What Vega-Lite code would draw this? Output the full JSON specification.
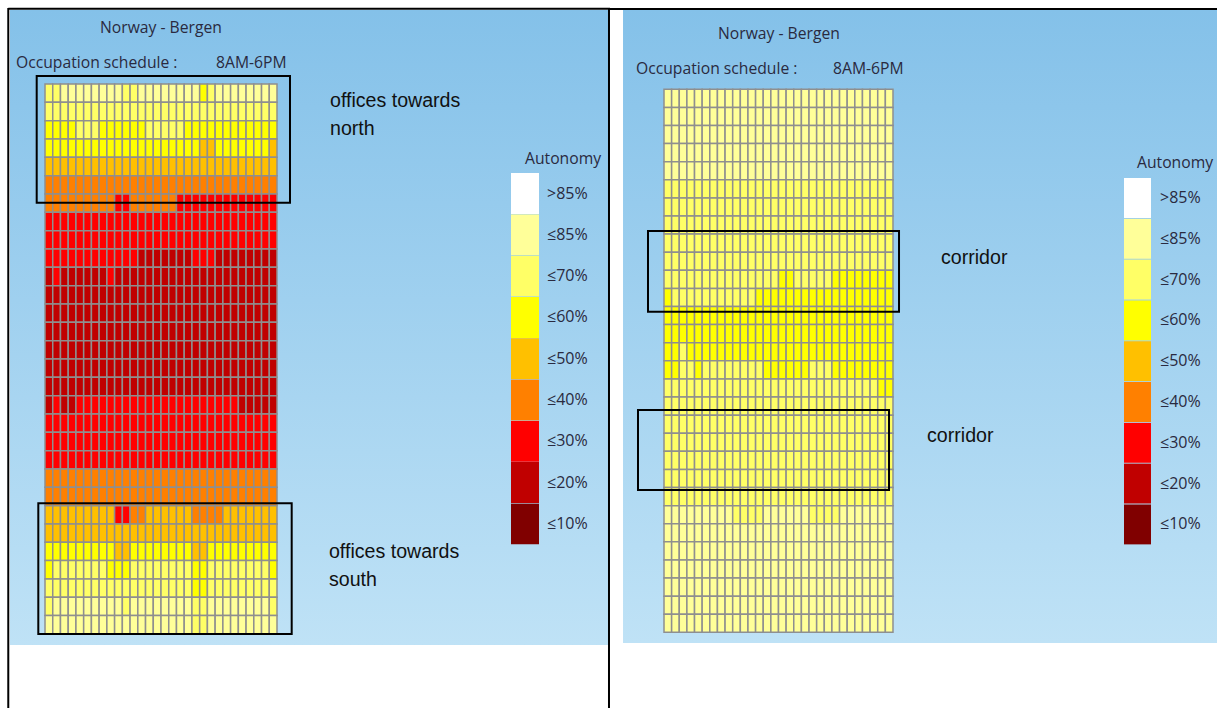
{"$schema":"https://vega.github.io/schema/vega-lite/v6.json","padding":0,"spacing":0,"bounds":"flush","background":"white","config":{"view":{"stroke":null},"concat":{"spacing":0}},
"datasets":{
"left":[
{"col":0,"row":0,"pct":70},{"col":1,"row":0,"pct":70},{"col":2,"row":0,"pct":85},{"col":3,"row":0,"pct":85},{"col":4,"row":0,"pct":85},{"col":5,"row":0,"pct":85},{"col":6,"row":0,"pct":85},{"col":7,"row":0,"pct":85},{"col":8,"row":0,"pct":85},{"col":9,"row":0,"pct":85},{"col":10,"row":0,"pct":70},{"col":11,"row":0,"pct":70},{"col":12,"row":0,"pct":85},{"col":13,"row":0,"pct":85},{"col":14,"row":0,"pct":85},{"col":15,"row":0,"pct":85},{"col":16,"row":0,"pct":85},{"col":17,"row":0,"pct":85},{"col":18,"row":0,"pct":85},{"col":19,"row":0,"pct":85},{"col":20,"row":0,"pct":60},{"col":21,"row":0,"pct":70},{"col":22,"row":0,"pct":85},{"col":23,"row":0,"pct":85},{"col":24,"row":0,"pct":85},{"col":25,"row":0,"pct":85},{"col":26,"row":0,"pct":85},{"col":27,"row":0,"pct":85},{"col":28,"row":0,"pct":85},{"col":29,"row":0,"pct":85},
{"col":0,"row":1,"pct":70},{"col":1,"row":1,"pct":70},{"col":2,"row":1,"pct":70},{"col":3,"row":1,"pct":70},{"col":4,"row":1,"pct":70},{"col":5,"row":1,"pct":70},{"col":6,"row":1,"pct":70},{"col":7,"row":1,"pct":70},{"col":8,"row":1,"pct":70},{"col":9,"row":1,"pct":70},{"col":10,"row":1,"pct":70},{"col":11,"row":1,"pct":70},{"col":12,"row":1,"pct":70},{"col":13,"row":1,"pct":70},{"col":14,"row":1,"pct":70},{"col":15,"row":1,"pct":70},{"col":16,"row":1,"pct":70},{"col":17,"row":1,"pct":70},{"col":18,"row":1,"pct":70},{"col":19,"row":1,"pct":70},{"col":20,"row":1,"pct":70},{"col":21,"row":1,"pct":70},{"col":22,"row":1,"pct":70},{"col":23,"row":1,"pct":70},{"col":24,"row":1,"pct":70},{"col":25,"row":1,"pct":70},{"col":26,"row":1,"pct":70},{"col":27,"row":1,"pct":70},{"col":28,"row":1,"pct":70},{"col":29,"row":1,"pct":70},
{"col":0,"row":2,"pct":60},{"col":1,"row":2,"pct":60},{"col":2,"row":2,"pct":60},{"col":3,"row":2,"pct":60},{"col":4,"row":2,"pct":70},{"col":5,"row":2,"pct":70},{"col":6,"row":2,"pct":70},{"col":7,"row":2,"pct":60},{"col":8,"row":2,"pct":60},{"col":9,"row":2,"pct":60},{"col":10,"row":2,"pct":60},{"col":11,"row":2,"pct":60},{"col":12,"row":2,"pct":60},{"col":13,"row":2,"pct":70},{"col":14,"row":2,"pct":70},{"col":15,"row":2,"pct":70},{"col":16,"row":2,"pct":70},{"col":17,"row":2,"pct":70},{"col":18,"row":2,"pct":60},{"col":19,"row":2,"pct":60},{"col":20,"row":2,"pct":60},{"col":21,"row":2,"pct":60},{"col":22,"row":2,"pct":60},{"col":23,"row":2,"pct":60},{"col":24,"row":2,"pct":60},{"col":25,"row":2,"pct":60},{"col":26,"row":2,"pct":60},{"col":27,"row":2,"pct":60},{"col":28,"row":2,"pct":60},{"col":29,"row":2,"pct":60},
{"col":0,"row":3,"pct":60},{"col":1,"row":3,"pct":60},{"col":2,"row":3,"pct":60},{"col":3,"row":3,"pct":60},{"col":4,"row":3,"pct":60},{"col":5,"row":3,"pct":60},{"col":6,"row":3,"pct":60},{"col":7,"row":3,"pct":60},{"col":8,"row":3,"pct":60},{"col":9,"row":3,"pct":60},{"col":10,"row":3,"pct":60},{"col":11,"row":3,"pct":60},{"col":12,"row":3,"pct":60},{"col":13,"row":3,"pct":60},{"col":14,"row":3,"pct":60},{"col":15,"row":3,"pct":60},{"col":16,"row":3,"pct":60},{"col":17,"row":3,"pct":60},{"col":18,"row":3,"pct":60},{"col":19,"row":3,"pct":60},{"col":20,"row":3,"pct":50},{"col":21,"row":3,"pct":50},{"col":22,"row":3,"pct":60},{"col":23,"row":3,"pct":60},{"col":24,"row":3,"pct":60},{"col":25,"row":3,"pct":60},{"col":26,"row":3,"pct":60},{"col":27,"row":3,"pct":60},{"col":28,"row":3,"pct":60},{"col":29,"row":3,"pct":50},
{"col":0,"row":4,"pct":50},{"col":1,"row":4,"pct":50},{"col":2,"row":4,"pct":50},{"col":3,"row":4,"pct":50},{"col":4,"row":4,"pct":50},{"col":5,"row":4,"pct":50},{"col":6,"row":4,"pct":50},{"col":7,"row":4,"pct":50},{"col":8,"row":4,"pct":50},{"col":9,"row":4,"pct":50},{"col":10,"row":4,"pct":50},{"col":11,"row":4,"pct":50},{"col":12,"row":4,"pct":50},{"col":13,"row":4,"pct":50},{"col":14,"row":4,"pct":50},{"col":15,"row":4,"pct":50},{"col":16,"row":4,"pct":50},{"col":17,"row":4,"pct":50},{"col":18,"row":4,"pct":50},{"col":19,"row":4,"pct":50},{"col":20,"row":4,"pct":50},{"col":21,"row":4,"pct":50},{"col":22,"row":4,"pct":50},{"col":23,"row":4,"pct":50},{"col":24,"row":4,"pct":50},{"col":25,"row":4,"pct":50},{"col":26,"row":4,"pct":50},{"col":27,"row":4,"pct":50},{"col":28,"row":4,"pct":50},{"col":29,"row":4,"pct":50},
{"col":0,"row":5,"pct":40},{"col":1,"row":5,"pct":40},{"col":2,"row":5,"pct":40},{"col":3,"row":5,"pct":40},{"col":4,"row":5,"pct":40},{"col":5,"row":5,"pct":40},{"col":6,"row":5,"pct":40},{"col":7,"row":5,"pct":40},{"col":8,"row":5,"pct":40},{"col":9,"row":5,"pct":40},{"col":10,"row":5,"pct":40},{"col":11,"row":5,"pct":40},{"col":12,"row":5,"pct":40},{"col":13,"row":5,"pct":40},{"col":14,"row":5,"pct":40},{"col":15,"row":5,"pct":40},{"col":16,"row":5,"pct":40},{"col":17,"row":5,"pct":40},{"col":18,"row":5,"pct":40},{"col":19,"row":5,"pct":40},{"col":20,"row":5,"pct":40},{"col":21,"row":5,"pct":40},{"col":22,"row":5,"pct":40},{"col":23,"row":5,"pct":40},{"col":24,"row":5,"pct":40},{"col":25,"row":5,"pct":40},{"col":26,"row":5,"pct":40},{"col":27,"row":5,"pct":40},{"col":28,"row":5,"pct":40},{"col":29,"row":5,"pct":40},
{"col":0,"row":6,"pct":40},{"col":1,"row":6,"pct":40},{"col":2,"row":6,"pct":40},{"col":3,"row":6,"pct":40},{"col":4,"row":6,"pct":40},{"col":5,"row":6,"pct":40},{"col":6,"row":6,"pct":40},{"col":7,"row":6,"pct":40},{"col":8,"row":6,"pct":40},{"col":9,"row":6,"pct":30},{"col":10,"row":6,"pct":30},{"col":11,"row":6,"pct":40},{"col":12,"row":6,"pct":40},{"col":13,"row":6,"pct":40},{"col":14,"row":6,"pct":40},{"col":15,"row":6,"pct":40},{"col":16,"row":6,"pct":40},{"col":17,"row":6,"pct":30},{"col":18,"row":6,"pct":30},{"col":19,"row":6,"pct":30},{"col":20,"row":6,"pct":30},{"col":21,"row":6,"pct":30},{"col":22,"row":6,"pct":30},{"col":23,"row":6,"pct":30},{"col":24,"row":6,"pct":30},{"col":25,"row":6,"pct":30},{"col":26,"row":6,"pct":30},{"col":27,"row":6,"pct":30},{"col":28,"row":6,"pct":30},{"col":29,"row":6,"pct":30},
{"col":0,"row":7,"pct":30},{"col":1,"row":7,"pct":30},{"col":2,"row":7,"pct":30},{"col":3,"row":7,"pct":30},{"col":4,"row":7,"pct":30},{"col":5,"row":7,"pct":30},{"col":6,"row":7,"pct":30},{"col":7,"row":7,"pct":30},{"col":8,"row":7,"pct":30},{"col":9,"row":7,"pct":30},{"col":10,"row":7,"pct":30},{"col":11,"row":7,"pct":30},{"col":12,"row":7,"pct":30},{"col":13,"row":7,"pct":30},{"col":14,"row":7,"pct":30},{"col":15,"row":7,"pct":30},{"col":16,"row":7,"pct":30},{"col":17,"row":7,"pct":30},{"col":18,"row":7,"pct":30},{"col":19,"row":7,"pct":30},{"col":20,"row":7,"pct":30},{"col":21,"row":7,"pct":30},{"col":22,"row":7,"pct":30},{"col":23,"row":7,"pct":30},{"col":24,"row":7,"pct":30},{"col":25,"row":7,"pct":30},{"col":26,"row":7,"pct":30},{"col":27,"row":7,"pct":30},{"col":28,"row":7,"pct":30},{"col":29,"row":7,"pct":30},
{"col":0,"row":8,"pct":30},{"col":1,"row":8,"pct":30},{"col":2,"row":8,"pct":30},{"col":3,"row":8,"pct":30},{"col":4,"row":8,"pct":30},{"col":5,"row":8,"pct":30},{"col":6,"row":8,"pct":30},{"col":7,"row":8,"pct":30},{"col":8,"row":8,"pct":30},{"col":9,"row":8,"pct":30},{"col":10,"row":8,"pct":30},{"col":11,"row":8,"pct":30},{"col":12,"row":8,"pct":30},{"col":13,"row":8,"pct":30},{"col":14,"row":8,"pct":30},{"col":15,"row":8,"pct":30},{"col":16,"row":8,"pct":30},{"col":17,"row":8,"pct":30},{"col":18,"row":8,"pct":30},{"col":19,"row":8,"pct":30},{"col":20,"row":8,"pct":30},{"col":21,"row":8,"pct":30},{"col":22,"row":8,"pct":30},{"col":23,"row":8,"pct":30},{"col":24,"row":8,"pct":30},{"col":25,"row":8,"pct":30},{"col":26,"row":8,"pct":30},{"col":27,"row":8,"pct":30},{"col":28,"row":8,"pct":30},{"col":29,"row":8,"pct":30},
{"col":0,"row":9,"pct":30},{"col":1,"row":9,"pct":30},{"col":2,"row":9,"pct":30},{"col":3,"row":9,"pct":30},{"col":4,"row":9,"pct":30},{"col":5,"row":9,"pct":30},{"col":6,"row":9,"pct":30},{"col":7,"row":9,"pct":30},{"col":8,"row":9,"pct":30},{"col":9,"row":9,"pct":30},{"col":10,"row":9,"pct":30},{"col":11,"row":9,"pct":30},{"col":12,"row":9,"pct":20},{"col":13,"row":9,"pct":20},{"col":14,"row":9,"pct":20},{"col":15,"row":9,"pct":20},{"col":16,"row":9,"pct":20},{"col":17,"row":9,"pct":20},{"col":18,"row":9,"pct":20},{"col":19,"row":9,"pct":30},{"col":20,"row":9,"pct":30},{"col":21,"row":9,"pct":30},{"col":22,"row":9,"pct":20},{"col":23,"row":9,"pct":20},{"col":24,"row":9,"pct":20},{"col":25,"row":9,"pct":20},{"col":26,"row":9,"pct":20},{"col":27,"row":9,"pct":20},{"col":28,"row":9,"pct":20},{"col":29,"row":9,"pct":20},
{"col":0,"row":10,"pct":20},{"col":1,"row":10,"pct":30},{"col":2,"row":10,"pct":20},{"col":3,"row":10,"pct":20},{"col":4,"row":10,"pct":20},{"col":5,"row":10,"pct":20},{"col":6,"row":10,"pct":20},{"col":7,"row":10,"pct":20},{"col":8,"row":10,"pct":30},{"col":9,"row":10,"pct":20},{"col":10,"row":10,"pct":20},{"col":11,"row":10,"pct":20},{"col":12,"row":10,"pct":20},{"col":13,"row":10,"pct":20},{"col":14,"row":10,"pct":20},{"col":15,"row":10,"pct":20},{"col":16,"row":10,"pct":20},{"col":17,"row":10,"pct":20},{"col":18,"row":10,"pct":20},{"col":19,"row":10,"pct":20},{"col":20,"row":10,"pct":20},{"col":21,"row":10,"pct":20},{"col":22,"row":10,"pct":20},{"col":23,"row":10,"pct":20},{"col":24,"row":10,"pct":20},{"col":25,"row":10,"pct":20},{"col":26,"row":10,"pct":20},{"col":27,"row":10,"pct":20},{"col":28,"row":10,"pct":20},{"col":29,"row":10,"pct":20},
{"col":0,"row":11,"pct":20},{"col":1,"row":11,"pct":20},{"col":2,"row":11,"pct":20},{"col":3,"row":11,"pct":20},{"col":4,"row":11,"pct":20},{"col":5,"row":11,"pct":20},{"col":6,"row":11,"pct":20},{"col":7,"row":11,"pct":20},{"col":8,"row":11,"pct":20},{"col":9,"row":11,"pct":20},{"col":10,"row":11,"pct":20},{"col":11,"row":11,"pct":20},{"col":12,"row":11,"pct":20},{"col":13,"row":11,"pct":20},{"col":14,"row":11,"pct":20},{"col":15,"row":11,"pct":20},{"col":16,"row":11,"pct":20},{"col":17,"row":11,"pct":20},{"col":18,"row":11,"pct":20},{"col":19,"row":11,"pct":20},{"col":20,"row":11,"pct":20},{"col":21,"row":11,"pct":20},{"col":22,"row":11,"pct":20},{"col":23,"row":11,"pct":20},{"col":24,"row":11,"pct":20},{"col":25,"row":11,"pct":20},{"col":26,"row":11,"pct":20},{"col":27,"row":11,"pct":20},{"col":28,"row":11,"pct":20},{"col":29,"row":11,"pct":20},
{"col":0,"row":12,"pct":20},{"col":1,"row":12,"pct":20},{"col":2,"row":12,"pct":20},{"col":3,"row":12,"pct":20},{"col":4,"row":12,"pct":20},{"col":5,"row":12,"pct":20},{"col":6,"row":12,"pct":20},{"col":7,"row":12,"pct":20},{"col":8,"row":12,"pct":20},{"col":9,"row":12,"pct":20},{"col":10,"row":12,"pct":20},{"col":11,"row":12,"pct":20},{"col":12,"row":12,"pct":20},{"col":13,"row":12,"pct":20},{"col":14,"row":12,"pct":20},{"col":15,"row":12,"pct":20},{"col":16,"row":12,"pct":20},{"col":17,"row":12,"pct":20},{"col":18,"row":12,"pct":20},{"col":19,"row":12,"pct":20},{"col":20,"row":12,"pct":20},{"col":21,"row":12,"pct":20},{"col":22,"row":12,"pct":20},{"col":23,"row":12,"pct":20},{"col":24,"row":12,"pct":20},{"col":25,"row":12,"pct":20},{"col":26,"row":12,"pct":20},{"col":27,"row":12,"pct":20},{"col":28,"row":12,"pct":20},{"col":29,"row":12,"pct":20},
{"col":0,"row":13,"pct":20},{"col":1,"row":13,"pct":20},{"col":2,"row":13,"pct":20},{"col":3,"row":13,"pct":20},{"col":4,"row":13,"pct":20},{"col":5,"row":13,"pct":20},{"col":6,"row":13,"pct":20},{"col":7,"row":13,"pct":20},{"col":8,"row":13,"pct":20},{"col":9,"row":13,"pct":20},{"col":10,"row":13,"pct":20},{"col":11,"row":13,"pct":20},{"col":12,"row":13,"pct":20},{"col":13,"row":13,"pct":20},{"col":14,"row":13,"pct":20},{"col":15,"row":13,"pct":20},{"col":16,"row":13,"pct":20},{"col":17,"row":13,"pct":20},{"col":18,"row":13,"pct":20},{"col":19,"row":13,"pct":20},{"col":20,"row":13,"pct":20},{"col":21,"row":13,"pct":20},{"col":22,"row":13,"pct":20},{"col":23,"row":13,"pct":20},{"col":24,"row":13,"pct":20},{"col":25,"row":13,"pct":20},{"col":26,"row":13,"pct":20},{"col":27,"row":13,"pct":20},{"col":28,"row":13,"pct":20},{"col":29,"row":13,"pct":20},
{"col":0,"row":14,"pct":20},{"col":1,"row":14,"pct":20},{"col":2,"row":14,"pct":20},{"col":3,"row":14,"pct":20},{"col":4,"row":14,"pct":20},{"col":5,"row":14,"pct":20},{"col":6,"row":14,"pct":20},{"col":7,"row":14,"pct":20},{"col":8,"row":14,"pct":20},{"col":9,"row":14,"pct":20},{"col":10,"row":14,"pct":20},{"col":11,"row":14,"pct":20},{"col":12,"row":14,"pct":20},{"col":13,"row":14,"pct":20},{"col":14,"row":14,"pct":20},{"col":15,"row":14,"pct":20},{"col":16,"row":14,"pct":20},{"col":17,"row":14,"pct":20},{"col":18,"row":14,"pct":20},{"col":19,"row":14,"pct":20},{"col":20,"row":14,"pct":20},{"col":21,"row":14,"pct":20},{"col":22,"row":14,"pct":20},{"col":23,"row":14,"pct":20},{"col":24,"row":14,"pct":20},{"col":25,"row":14,"pct":20},{"col":26,"row":14,"pct":20},{"col":27,"row":14,"pct":20},{"col":28,"row":14,"pct":20},{"col":29,"row":14,"pct":20},
{"col":0,"row":15,"pct":20},{"col":1,"row":15,"pct":20},{"col":2,"row":15,"pct":20},{"col":3,"row":15,"pct":20},{"col":4,"row":15,"pct":20},{"col":5,"row":15,"pct":20},{"col":6,"row":15,"pct":20},{"col":7,"row":15,"pct":20},{"col":8,"row":15,"pct":20},{"col":9,"row":15,"pct":20},{"col":10,"row":15,"pct":20},{"col":11,"row":15,"pct":20},{"col":12,"row":15,"pct":20},{"col":13,"row":15,"pct":20},{"col":14,"row":15,"pct":20},{"col":15,"row":15,"pct":20},{"col":16,"row":15,"pct":20},{"col":17,"row":15,"pct":20},{"col":18,"row":15,"pct":20},{"col":19,"row":15,"pct":20},{"col":20,"row":15,"pct":20},{"col":21,"row":15,"pct":20},{"col":22,"row":15,"pct":20},{"col":23,"row":15,"pct":20},{"col":24,"row":15,"pct":20},{"col":25,"row":15,"pct":20},{"col":26,"row":15,"pct":20},{"col":27,"row":15,"pct":20},{"col":28,"row":15,"pct":20},{"col":29,"row":15,"pct":20},
{"col":0,"row":16,"pct":20},{"col":1,"row":16,"pct":20},{"col":2,"row":16,"pct":20},{"col":3,"row":16,"pct":20},{"col":4,"row":16,"pct":20},{"col":5,"row":16,"pct":20},{"col":6,"row":16,"pct":20},{"col":7,"row":16,"pct":20},{"col":8,"row":16,"pct":20},{"col":9,"row":16,"pct":20},{"col":10,"row":16,"pct":20},{"col":11,"row":16,"pct":20},{"col":12,"row":16,"pct":20},{"col":13,"row":16,"pct":20},{"col":14,"row":16,"pct":20},{"col":15,"row":16,"pct":20},{"col":16,"row":16,"pct":20},{"col":17,"row":16,"pct":20},{"col":18,"row":16,"pct":20},{"col":19,"row":16,"pct":20},{"col":20,"row":16,"pct":20},{"col":21,"row":16,"pct":20},{"col":22,"row":16,"pct":20},{"col":23,"row":16,"pct":20},{"col":24,"row":16,"pct":20},{"col":25,"row":16,"pct":20},{"col":26,"row":16,"pct":20},{"col":27,"row":16,"pct":20},{"col":28,"row":16,"pct":20},{"col":29,"row":16,"pct":20},
{"col":0,"row":17,"pct":20},{"col":1,"row":17,"pct":30},{"col":2,"row":17,"pct":20},{"col":3,"row":17,"pct":20},{"col":4,"row":17,"pct":30},{"col":5,"row":17,"pct":30},{"col":6,"row":17,"pct":30},{"col":7,"row":17,"pct":30},{"col":8,"row":17,"pct":30},{"col":9,"row":17,"pct":30},{"col":10,"row":17,"pct":30},{"col":11,"row":17,"pct":30},{"col":12,"row":17,"pct":30},{"col":13,"row":17,"pct":30},{"col":14,"row":17,"pct":30},{"col":15,"row":17,"pct":30},{"col":16,"row":17,"pct":30},{"col":17,"row":17,"pct":30},{"col":18,"row":17,"pct":30},{"col":19,"row":17,"pct":30},{"col":20,"row":17,"pct":30},{"col":21,"row":17,"pct":30},{"col":22,"row":17,"pct":30},{"col":23,"row":17,"pct":30},{"col":24,"row":17,"pct":30},{"col":25,"row":17,"pct":20},{"col":26,"row":17,"pct":20},{"col":27,"row":17,"pct":20},{"col":28,"row":17,"pct":20},{"col":29,"row":17,"pct":20},
{"col":0,"row":18,"pct":30},{"col":1,"row":18,"pct":30},{"col":2,"row":18,"pct":30},{"col":3,"row":18,"pct":30},{"col":4,"row":18,"pct":30},{"col":5,"row":18,"pct":30},{"col":6,"row":18,"pct":30},{"col":7,"row":18,"pct":30},{"col":8,"row":18,"pct":30},{"col":9,"row":18,"pct":30},{"col":10,"row":18,"pct":30},{"col":11,"row":18,"pct":30},{"col":12,"row":18,"pct":30},{"col":13,"row":18,"pct":30},{"col":14,"row":18,"pct":30},{"col":15,"row":18,"pct":30},{"col":16,"row":18,"pct":30},{"col":17,"row":18,"pct":30},{"col":18,"row":18,"pct":30},{"col":19,"row":18,"pct":30},{"col":20,"row":18,"pct":30},{"col":21,"row":18,"pct":30},{"col":22,"row":18,"pct":30},{"col":23,"row":18,"pct":30},{"col":24,"row":18,"pct":30},{"col":25,"row":18,"pct":30},{"col":26,"row":18,"pct":30},{"col":27,"row":18,"pct":30},{"col":28,"row":18,"pct":30},{"col":29,"row":18,"pct":30},
{"col":0,"row":19,"pct":30},{"col":1,"row":19,"pct":30},{"col":2,"row":19,"pct":30},{"col":3,"row":19,"pct":30},{"col":4,"row":19,"pct":30},{"col":5,"row":19,"pct":30},{"col":6,"row":19,"pct":30},{"col":7,"row":19,"pct":30},{"col":8,"row":19,"pct":30},{"col":9,"row":19,"pct":30},{"col":10,"row":19,"pct":30},{"col":11,"row":19,"pct":30},{"col":12,"row":19,"pct":30},{"col":13,"row":19,"pct":30},{"col":14,"row":19,"pct":30},{"col":15,"row":19,"pct":30},{"col":16,"row":19,"pct":30},{"col":17,"row":19,"pct":30},{"col":18,"row":19,"pct":30},{"col":19,"row":19,"pct":30},{"col":20,"row":19,"pct":30},{"col":21,"row":19,"pct":30},{"col":22,"row":19,"pct":30},{"col":23,"row":19,"pct":30},{"col":24,"row":19,"pct":30},{"col":25,"row":19,"pct":30},{"col":26,"row":19,"pct":30},{"col":27,"row":19,"pct":30},{"col":28,"row":19,"pct":30},{"col":29,"row":19,"pct":30},
{"col":0,"row":20,"pct":30},{"col":1,"row":20,"pct":30},{"col":2,"row":20,"pct":30},{"col":3,"row":20,"pct":30},{"col":4,"row":20,"pct":30},{"col":5,"row":20,"pct":30},{"col":6,"row":20,"pct":30},{"col":7,"row":20,"pct":30},{"col":8,"row":20,"pct":30},{"col":9,"row":20,"pct":30},{"col":10,"row":20,"pct":30},{"col":11,"row":20,"pct":30},{"col":12,"row":20,"pct":30},{"col":13,"row":20,"pct":30},{"col":14,"row":20,"pct":30},{"col":15,"row":20,"pct":30},{"col":16,"row":20,"pct":30},{"col":17,"row":20,"pct":30},{"col":18,"row":20,"pct":30},{"col":19,"row":20,"pct":30},{"col":20,"row":20,"pct":30},{"col":21,"row":20,"pct":30},{"col":22,"row":20,"pct":30},{"col":23,"row":20,"pct":30},{"col":24,"row":20,"pct":30},{"col":25,"row":20,"pct":30},{"col":26,"row":20,"pct":30},{"col":27,"row":20,"pct":30},{"col":28,"row":20,"pct":30},{"col":29,"row":20,"pct":30},
{"col":0,"row":21,"pct":40},{"col":1,"row":21,"pct":40},{"col":2,"row":21,"pct":40},{"col":3,"row":21,"pct":40},{"col":4,"row":21,"pct":40},{"col":5,"row":21,"pct":40},{"col":6,"row":21,"pct":40},{"col":7,"row":21,"pct":40},{"col":8,"row":21,"pct":40},{"col":9,"row":21,"pct":40},{"col":10,"row":21,"pct":40},{"col":11,"row":21,"pct":40},{"col":12,"row":21,"pct":40},{"col":13,"row":21,"pct":40},{"col":14,"row":21,"pct":40},{"col":15,"row":21,"pct":40},{"col":16,"row":21,"pct":40},{"col":17,"row":21,"pct":40},{"col":18,"row":21,"pct":40},{"col":19,"row":21,"pct":40},{"col":20,"row":21,"pct":40},{"col":21,"row":21,"pct":40},{"col":22,"row":21,"pct":40},{"col":23,"row":21,"pct":40},{"col":24,"row":21,"pct":40},{"col":25,"row":21,"pct":40},{"col":26,"row":21,"pct":40},{"col":27,"row":21,"pct":40},{"col":28,"row":21,"pct":40},{"col":29,"row":21,"pct":40},
{"col":0,"row":22,"pct":40},{"col":1,"row":22,"pct":40},{"col":2,"row":22,"pct":40},{"col":3,"row":22,"pct":40},{"col":4,"row":22,"pct":40},{"col":5,"row":22,"pct":40},{"col":6,"row":22,"pct":40},{"col":7,"row":22,"pct":40},{"col":8,"row":22,"pct":40},{"col":9,"row":22,"pct":40},{"col":10,"row":22,"pct":40},{"col":11,"row":22,"pct":40},{"col":12,"row":22,"pct":40},{"col":13,"row":22,"pct":40},{"col":14,"row":22,"pct":40},{"col":15,"row":22,"pct":40},{"col":16,"row":22,"pct":40},{"col":17,"row":22,"pct":40},{"col":18,"row":22,"pct":40},{"col":19,"row":22,"pct":40},{"col":20,"row":22,"pct":40},{"col":21,"row":22,"pct":40},{"col":22,"row":22,"pct":40},{"col":23,"row":22,"pct":40},{"col":24,"row":22,"pct":40},{"col":25,"row":22,"pct":40},{"col":26,"row":22,"pct":40},{"col":27,"row":22,"pct":40},{"col":28,"row":22,"pct":40},{"col":29,"row":22,"pct":40},
{"col":0,"row":23,"pct":50},{"col":1,"row":23,"pct":50},{"col":2,"row":23,"pct":50},{"col":3,"row":23,"pct":50},{"col":4,"row":23,"pct":50},{"col":5,"row":23,"pct":50},{"col":6,"row":23,"pct":50},{"col":7,"row":23,"pct":50},{"col":8,"row":23,"pct":50},{"col":9,"row":23,"pct":30},{"col":10,"row":23,"pct":30},{"col":11,"row":23,"pct":40},{"col":12,"row":23,"pct":40},{"col":13,"row":23,"pct":50},{"col":14,"row":23,"pct":50},{"col":15,"row":23,"pct":50},{"col":16,"row":23,"pct":50},{"col":17,"row":23,"pct":50},{"col":18,"row":23,"pct":50},{"col":19,"row":23,"pct":40},{"col":20,"row":23,"pct":40},{"col":21,"row":23,"pct":40},{"col":22,"row":23,"pct":40},{"col":23,"row":23,"pct":50},{"col":24,"row":23,"pct":50},{"col":25,"row":23,"pct":50},{"col":26,"row":23,"pct":50},{"col":27,"row":23,"pct":50},{"col":28,"row":23,"pct":50},{"col":29,"row":23,"pct":50},
{"col":0,"row":24,"pct":50},{"col":1,"row":24,"pct":50},{"col":2,"row":24,"pct":50},{"col":3,"row":24,"pct":50},{"col":4,"row":24,"pct":50},{"col":5,"row":24,"pct":50},{"col":6,"row":24,"pct":50},{"col":7,"row":24,"pct":50},{"col":8,"row":24,"pct":50},{"col":9,"row":24,"pct":50},{"col":10,"row":24,"pct":50},{"col":11,"row":24,"pct":50},{"col":12,"row":24,"pct":50},{"col":13,"row":24,"pct":50},{"col":14,"row":24,"pct":50},{"col":15,"row":24,"pct":50},{"col":16,"row":24,"pct":50},{"col":17,"row":24,"pct":50},{"col":18,"row":24,"pct":50},{"col":19,"row":24,"pct":50},{"col":20,"row":24,"pct":50},{"col":21,"row":24,"pct":50},{"col":22,"row":24,"pct":50},{"col":23,"row":24,"pct":50},{"col":24,"row":24,"pct":50},{"col":25,"row":24,"pct":50},{"col":26,"row":24,"pct":50},{"col":27,"row":24,"pct":50},{"col":28,"row":24,"pct":50},{"col":29,"row":24,"pct":50},
{"col":0,"row":25,"pct":60},{"col":1,"row":25,"pct":60},{"col":2,"row":25,"pct":60},{"col":3,"row":25,"pct":60},{"col":4,"row":25,"pct":60},{"col":5,"row":25,"pct":60},{"col":6,"row":25,"pct":60},{"col":7,"row":25,"pct":60},{"col":8,"row":25,"pct":60},{"col":9,"row":25,"pct":50},{"col":10,"row":25,"pct":50},{"col":11,"row":25,"pct":60},{"col":12,"row":25,"pct":60},{"col":13,"row":25,"pct":60},{"col":14,"row":25,"pct":60},{"col":15,"row":25,"pct":60},{"col":16,"row":25,"pct":60},{"col":17,"row":25,"pct":60},{"col":18,"row":25,"pct":60},{"col":19,"row":25,"pct":50},{"col":20,"row":25,"pct":50},{"col":21,"row":25,"pct":60},{"col":22,"row":25,"pct":60},{"col":23,"row":25,"pct":60},{"col":24,"row":25,"pct":60},{"col":25,"row":25,"pct":60},{"col":26,"row":25,"pct":60},{"col":27,"row":25,"pct":60},{"col":28,"row":25,"pct":60},{"col":29,"row":25,"pct":60},
{"col":0,"row":26,"pct":60},{"col":1,"row":26,"pct":70},{"col":2,"row":26,"pct":70},{"col":3,"row":26,"pct":70},{"col":4,"row":26,"pct":70},{"col":5,"row":26,"pct":70},{"col":6,"row":26,"pct":70},{"col":7,"row":26,"pct":70},{"col":8,"row":26,"pct":60},{"col":9,"row":26,"pct":60},{"col":10,"row":26,"pct":60},{"col":11,"row":26,"pct":70},{"col":12,"row":26,"pct":70},{"col":13,"row":26,"pct":70},{"col":14,"row":26,"pct":70},{"col":15,"row":26,"pct":70},{"col":16,"row":26,"pct":70},{"col":17,"row":26,"pct":70},{"col":18,"row":26,"pct":70},{"col":19,"row":26,"pct":60},{"col":20,"row":26,"pct":60},{"col":21,"row":26,"pct":70},{"col":22,"row":26,"pct":70},{"col":23,"row":26,"pct":70},{"col":24,"row":26,"pct":70},{"col":25,"row":26,"pct":70},{"col":26,"row":26,"pct":70},{"col":27,"row":26,"pct":70},{"col":28,"row":26,"pct":70},{"col":29,"row":26,"pct":60},
{"col":0,"row":27,"pct":70},{"col":1,"row":27,"pct":70},{"col":2,"row":27,"pct":70},{"col":3,"row":27,"pct":70},{"col":4,"row":27,"pct":70},{"col":5,"row":27,"pct":70},{"col":6,"row":27,"pct":70},{"col":7,"row":27,"pct":70},{"col":8,"row":27,"pct":70},{"col":9,"row":27,"pct":70},{"col":10,"row":27,"pct":70},{"col":11,"row":27,"pct":70},{"col":12,"row":27,"pct":70},{"col":13,"row":27,"pct":70},{"col":14,"row":27,"pct":70},{"col":15,"row":27,"pct":70},{"col":16,"row":27,"pct":70},{"col":17,"row":27,"pct":70},{"col":18,"row":27,"pct":70},{"col":19,"row":27,"pct":60},{"col":20,"row":27,"pct":60},{"col":21,"row":27,"pct":70},{"col":22,"row":27,"pct":70},{"col":23,"row":27,"pct":70},{"col":24,"row":27,"pct":70},{"col":25,"row":27,"pct":70},{"col":26,"row":27,"pct":70},{"col":27,"row":27,"pct":70},{"col":28,"row":27,"pct":70},{"col":29,"row":27,"pct":70},
{"col":0,"row":28,"pct":70},{"col":1,"row":28,"pct":85},{"col":2,"row":28,"pct":85},{"col":3,"row":28,"pct":85},{"col":4,"row":28,"pct":85},{"col":5,"row":28,"pct":85},{"col":6,"row":28,"pct":85},{"col":7,"row":28,"pct":85},{"col":8,"row":28,"pct":85},{"col":9,"row":28,"pct":85},{"col":10,"row":28,"pct":70},{"col":11,"row":28,"pct":85},{"col":12,"row":28,"pct":85},{"col":13,"row":28,"pct":85},{"col":14,"row":28,"pct":85},{"col":15,"row":28,"pct":85},{"col":16,"row":28,"pct":85},{"col":17,"row":28,"pct":85},{"col":18,"row":28,"pct":85},{"col":19,"row":28,"pct":70},{"col":20,"row":28,"pct":70},{"col":21,"row":28,"pct":85},{"col":22,"row":28,"pct":85},{"col":23,"row":28,"pct":85},{"col":24,"row":28,"pct":85},{"col":25,"row":28,"pct":85},{"col":26,"row":28,"pct":85},{"col":27,"row":28,"pct":85},{"col":28,"row":28,"pct":85},{"col":29,"row":28,"pct":70},
{"col":0,"row":29,"pct":85},{"col":1,"row":29,"pct":85},{"col":2,"row":29,"pct":85},{"col":3,"row":29,"pct":85},{"col":4,"row":29,"pct":85},{"col":5,"row":29,"pct":85},{"col":6,"row":29,"pct":85},{"col":7,"row":29,"pct":85},{"col":8,"row":29,"pct":85},{"col":9,"row":29,"pct":85},{"col":10,"row":29,"pct":85},{"col":11,"row":29,"pct":85},{"col":12,"row":29,"pct":85},{"col":13,"row":29,"pct":85},{"col":14,"row":29,"pct":85},{"col":15,"row":29,"pct":85},{"col":16,"row":29,"pct":85},{"col":17,"row":29,"pct":85},{"col":18,"row":29,"pct":85},{"col":19,"row":29,"pct":70},{"col":20,"row":29,"pct":70},{"col":21,"row":29,"pct":85},{"col":22,"row":29,"pct":85},{"col":23,"row":29,"pct":85},{"col":24,"row":29,"pct":85},{"col":25,"row":29,"pct":85},{"col":26,"row":29,"pct":85},{"col":27,"row":29,"pct":85},{"col":28,"row":29,"pct":85},{"col":29,"row":29,"pct":85}
],
"right":[
{"col":0,"row":0,"pct":85},{"col":1,"row":0,"pct":85},{"col":2,"row":0,"pct":85},{"col":3,"row":0,"pct":85},{"col":4,"row":0,"pct":85},{"col":5,"row":0,"pct":85},{"col":6,"row":0,"pct":85},{"col":7,"row":0,"pct":85},{"col":8,"row":0,"pct":85},{"col":9,"row":0,"pct":85},{"col":10,"row":0,"pct":85},{"col":11,"row":0,"pct":85},{"col":12,"row":0,"pct":85},{"col":13,"row":0,"pct":85},{"col":14,"row":0,"pct":85},{"col":15,"row":0,"pct":85},{"col":16,"row":0,"pct":85},{"col":17,"row":0,"pct":85},{"col":18,"row":0,"pct":85},{"col":19,"row":0,"pct":85},{"col":20,"row":0,"pct":85},{"col":21,"row":0,"pct":85},{"col":22,"row":0,"pct":85},{"col":23,"row":0,"pct":85},{"col":24,"row":0,"pct":85},{"col":25,"row":0,"pct":85},{"col":26,"row":0,"pct":85},{"col":27,"row":0,"pct":85},{"col":28,"row":0,"pct":85},{"col":29,"row":0,"pct":85},
{"col":0,"row":1,"pct":85},{"col":1,"row":1,"pct":85},{"col":2,"row":1,"pct":85},{"col":3,"row":1,"pct":85},{"col":4,"row":1,"pct":85},{"col":5,"row":1,"pct":85},{"col":6,"row":1,"pct":85},{"col":7,"row":1,"pct":85},{"col":8,"row":1,"pct":85},{"col":9,"row":1,"pct":85},{"col":10,"row":1,"pct":85},{"col":11,"row":1,"pct":85},{"col":12,"row":1,"pct":85},{"col":13,"row":1,"pct":85},{"col":14,"row":1,"pct":85},{"col":15,"row":1,"pct":85},{"col":16,"row":1,"pct":85},{"col":17,"row":1,"pct":85},{"col":18,"row":1,"pct":85},{"col":19,"row":1,"pct":85},{"col":20,"row":1,"pct":85},{"col":21,"row":1,"pct":85},{"col":22,"row":1,"pct":85},{"col":23,"row":1,"pct":85},{"col":24,"row":1,"pct":85},{"col":25,"row":1,"pct":85},{"col":26,"row":1,"pct":85},{"col":27,"row":1,"pct":85},{"col":28,"row":1,"pct":85},{"col":29,"row":1,"pct":85},
{"col":0,"row":2,"pct":85},{"col":1,"row":2,"pct":85},{"col":2,"row":2,"pct":85},{"col":3,"row":2,"pct":85},{"col":4,"row":2,"pct":85},{"col":5,"row":2,"pct":85},{"col":6,"row":2,"pct":85},{"col":7,"row":2,"pct":85},{"col":8,"row":2,"pct":85},{"col":9,"row":2,"pct":85},{"col":10,"row":2,"pct":85},{"col":11,"row":2,"pct":85},{"col":12,"row":2,"pct":85},{"col":13,"row":2,"pct":85},{"col":14,"row":2,"pct":85},{"col":15,"row":2,"pct":85},{"col":16,"row":2,"pct":85},{"col":17,"row":2,"pct":85},{"col":18,"row":2,"pct":85},{"col":19,"row":2,"pct":85},{"col":20,"row":2,"pct":85},{"col":21,"row":2,"pct":85},{"col":22,"row":2,"pct":85},{"col":23,"row":2,"pct":85},{"col":24,"row":2,"pct":85},{"col":25,"row":2,"pct":85},{"col":26,"row":2,"pct":85},{"col":27,"row":2,"pct":85},{"col":28,"row":2,"pct":85},{"col":29,"row":2,"pct":85},
{"col":0,"row":3,"pct":85},{"col":1,"row":3,"pct":85},{"col":2,"row":3,"pct":85},{"col":3,"row":3,"pct":85},{"col":4,"row":3,"pct":85},{"col":5,"row":3,"pct":85},{"col":6,"row":3,"pct":85},{"col":7,"row":3,"pct":85},{"col":8,"row":3,"pct":85},{"col":9,"row":3,"pct":85},{"col":10,"row":3,"pct":85},{"col":11,"row":3,"pct":85},{"col":12,"row":3,"pct":85},{"col":13,"row":3,"pct":85},{"col":14,"row":3,"pct":85},{"col":15,"row":3,"pct":85},{"col":16,"row":3,"pct":85},{"col":17,"row":3,"pct":85},{"col":18,"row":3,"pct":85},{"col":19,"row":3,"pct":85},{"col":20,"row":3,"pct":85},{"col":21,"row":3,"pct":85},{"col":22,"row":3,"pct":85},{"col":23,"row":3,"pct":85},{"col":24,"row":3,"pct":85},{"col":25,"row":3,"pct":85},{"col":26,"row":3,"pct":85},{"col":27,"row":3,"pct":85},{"col":28,"row":3,"pct":85},{"col":29,"row":3,"pct":85},
{"col":0,"row":4,"pct":85},{"col":1,"row":4,"pct":85},{"col":2,"row":4,"pct":85},{"col":3,"row":4,"pct":85},{"col":4,"row":4,"pct":85},{"col":5,"row":4,"pct":85},{"col":6,"row":4,"pct":85},{"col":7,"row":4,"pct":85},{"col":8,"row":4,"pct":85},{"col":9,"row":4,"pct":85},{"col":10,"row":4,"pct":85},{"col":11,"row":4,"pct":85},{"col":12,"row":4,"pct":85},{"col":13,"row":4,"pct":85},{"col":14,"row":4,"pct":85},{"col":15,"row":4,"pct":85},{"col":16,"row":4,"pct":85},{"col":17,"row":4,"pct":85},{"col":18,"row":4,"pct":85},{"col":19,"row":4,"pct":85},{"col":20,"row":4,"pct":85},{"col":21,"row":4,"pct":85},{"col":22,"row":4,"pct":85},{"col":23,"row":4,"pct":85},{"col":24,"row":4,"pct":85},{"col":25,"row":4,"pct":85},{"col":26,"row":4,"pct":85},{"col":27,"row":4,"pct":85},{"col":28,"row":4,"pct":85},{"col":29,"row":4,"pct":85},
{"col":0,"row":5,"pct":70},{"col":1,"row":5,"pct":70},{"col":2,"row":5,"pct":70},{"col":3,"row":5,"pct":70},{"col":4,"row":5,"pct":70},{"col":5,"row":5,"pct":70},{"col":6,"row":5,"pct":70},{"col":7,"row":5,"pct":70},{"col":8,"row":5,"pct":70},{"col":9,"row":5,"pct":70},{"col":10,"row":5,"pct":70},{"col":11,"row":5,"pct":70},{"col":12,"row":5,"pct":70},{"col":13,"row":5,"pct":70},{"col":14,"row":5,"pct":70},{"col":15,"row":5,"pct":70},{"col":16,"row":5,"pct":70},{"col":17,"row":5,"pct":70},{"col":18,"row":5,"pct":70},{"col":19,"row":5,"pct":70},{"col":20,"row":5,"pct":70},{"col":21,"row":5,"pct":70},{"col":22,"row":5,"pct":70},{"col":23,"row":5,"pct":70},{"col":24,"row":5,"pct":70},{"col":25,"row":5,"pct":70},{"col":26,"row":5,"pct":70},{"col":27,"row":5,"pct":70},{"col":28,"row":5,"pct":70},{"col":29,"row":5,"pct":70},
{"col":0,"row":6,"pct":70},{"col":1,"row":6,"pct":70},{"col":2,"row":6,"pct":70},{"col":3,"row":6,"pct":70},{"col":4,"row":6,"pct":70},{"col":5,"row":6,"pct":70},{"col":6,"row":6,"pct":70},{"col":7,"row":6,"pct":70},{"col":8,"row":6,"pct":70},{"col":9,"row":6,"pct":70},{"col":10,"row":6,"pct":70},{"col":11,"row":6,"pct":70},{"col":12,"row":6,"pct":70},{"col":13,"row":6,"pct":70},{"col":14,"row":6,"pct":70},{"col":15,"row":6,"pct":70},{"col":16,"row":6,"pct":70},{"col":17,"row":6,"pct":70},{"col":18,"row":6,"pct":70},{"col":19,"row":6,"pct":70},{"col":20,"row":6,"pct":70},{"col":21,"row":6,"pct":70},{"col":22,"row":6,"pct":70},{"col":23,"row":6,"pct":70},{"col":24,"row":6,"pct":70},{"col":25,"row":6,"pct":70},{"col":26,"row":6,"pct":70},{"col":27,"row":6,"pct":70},{"col":28,"row":6,"pct":70},{"col":29,"row":6,"pct":70},
{"col":0,"row":7,"pct":70},{"col":1,"row":7,"pct":70},{"col":2,"row":7,"pct":70},{"col":3,"row":7,"pct":70},{"col":4,"row":7,"pct":70},{"col":5,"row":7,"pct":70},{"col":6,"row":7,"pct":70},{"col":7,"row":7,"pct":70},{"col":8,"row":7,"pct":70},{"col":9,"row":7,"pct":70},{"col":10,"row":7,"pct":70},{"col":11,"row":7,"pct":70},{"col":12,"row":7,"pct":70},{"col":13,"row":7,"pct":70},{"col":14,"row":7,"pct":70},{"col":15,"row":7,"pct":70},{"col":16,"row":7,"pct":70},{"col":17,"row":7,"pct":70},{"col":18,"row":7,"pct":70},{"col":19,"row":7,"pct":70},{"col":20,"row":7,"pct":70},{"col":21,"row":7,"pct":70},{"col":22,"row":7,"pct":70},{"col":23,"row":7,"pct":70},{"col":24,"row":7,"pct":70},{"col":25,"row":7,"pct":70},{"col":26,"row":7,"pct":70},{"col":27,"row":7,"pct":70},{"col":28,"row":7,"pct":70},{"col":29,"row":7,"pct":70},
{"col":0,"row":8,"pct":70},{"col":1,"row":8,"pct":70},{"col":2,"row":8,"pct":70},{"col":3,"row":8,"pct":70},{"col":4,"row":8,"pct":70},{"col":5,"row":8,"pct":70},{"col":6,"row":8,"pct":70},{"col":7,"row":8,"pct":70},{"col":8,"row":8,"pct":70},{"col":9,"row":8,"pct":70},{"col":10,"row":8,"pct":70},{"col":11,"row":8,"pct":70},{"col":12,"row":8,"pct":70},{"col":13,"row":8,"pct":70},{"col":14,"row":8,"pct":70},{"col":15,"row":8,"pct":70},{"col":16,"row":8,"pct":70},{"col":17,"row":8,"pct":70},{"col":18,"row":8,"pct":70},{"col":19,"row":8,"pct":70},{"col":20,"row":8,"pct":70},{"col":21,"row":8,"pct":70},{"col":22,"row":8,"pct":70},{"col":23,"row":8,"pct":70},{"col":24,"row":8,"pct":70},{"col":25,"row":8,"pct":70},{"col":26,"row":8,"pct":70},{"col":27,"row":8,"pct":70},{"col":28,"row":8,"pct":70},{"col":29,"row":8,"pct":70},
{"col":0,"row":9,"pct":70},{"col":1,"row":9,"pct":70},{"col":2,"row":9,"pct":70},{"col":3,"row":9,"pct":70},{"col":4,"row":9,"pct":70},{"col":5,"row":9,"pct":70},{"col":6,"row":9,"pct":70},{"col":7,"row":9,"pct":70},{"col":8,"row":9,"pct":70},{"col":9,"row":9,"pct":70},{"col":10,"row":9,"pct":70},{"col":11,"row":9,"pct":70},{"col":12,"row":9,"pct":70},{"col":13,"row":9,"pct":70},{"col":14,"row":9,"pct":70},{"col":15,"row":9,"pct":70},{"col":16,"row":9,"pct":70},{"col":17,"row":9,"pct":70},{"col":18,"row":9,"pct":70},{"col":19,"row":9,"pct":70},{"col":20,"row":9,"pct":70},{"col":21,"row":9,"pct":70},{"col":22,"row":9,"pct":70},{"col":23,"row":9,"pct":70},{"col":24,"row":9,"pct":70},{"col":25,"row":9,"pct":70},{"col":26,"row":9,"pct":70},{"col":27,"row":9,"pct":70},{"col":28,"row":9,"pct":70},{"col":29,"row":9,"pct":70},
{"col":0,"row":10,"pct":70},{"col":1,"row":10,"pct":70},{"col":2,"row":10,"pct":70},{"col":3,"row":10,"pct":70},{"col":4,"row":10,"pct":70},{"col":5,"row":10,"pct":70},{"col":6,"row":10,"pct":70},{"col":7,"row":10,"pct":70},{"col":8,"row":10,"pct":70},{"col":9,"row":10,"pct":70},{"col":10,"row":10,"pct":70},{"col":11,"row":10,"pct":70},{"col":12,"row":10,"pct":70},{"col":13,"row":10,"pct":70},{"col":14,"row":10,"pct":70},{"col":15,"row":10,"pct":60},{"col":16,"row":10,"pct":60},{"col":17,"row":10,"pct":70},{"col":18,"row":10,"pct":70},{"col":19,"row":10,"pct":70},{"col":20,"row":10,"pct":70},{"col":21,"row":10,"pct":70},{"col":22,"row":10,"pct":60},{"col":23,"row":10,"pct":60},{"col":24,"row":10,"pct":60},{"col":25,"row":10,"pct":60},{"col":26,"row":10,"pct":60},{"col":27,"row":10,"pct":60},{"col":28,"row":10,"pct":60},{"col":29,"row":10,"pct":60},
{"col":0,"row":11,"pct":60},{"col":1,"row":11,"pct":70},{"col":2,"row":11,"pct":70},{"col":3,"row":11,"pct":70},{"col":4,"row":11,"pct":70},{"col":5,"row":11,"pct":70},{"col":6,"row":11,"pct":70},{"col":7,"row":11,"pct":70},{"col":8,"row":11,"pct":70},{"col":9,"row":11,"pct":70},{"col":10,"row":11,"pct":70},{"col":11,"row":11,"pct":70},{"col":12,"row":11,"pct":60},{"col":13,"row":11,"pct":60},{"col":14,"row":11,"pct":60},{"col":15,"row":11,"pct":60},{"col":16,"row":11,"pct":60},{"col":17,"row":11,"pct":60},{"col":18,"row":11,"pct":60},{"col":19,"row":11,"pct":60},{"col":20,"row":11,"pct":60},{"col":21,"row":11,"pct":60},{"col":22,"row":11,"pct":60},{"col":23,"row":11,"pct":60},{"col":24,"row":11,"pct":60},{"col":25,"row":11,"pct":60},{"col":26,"row":11,"pct":60},{"col":27,"row":11,"pct":60},{"col":28,"row":11,"pct":60},{"col":29,"row":11,"pct":60},
{"col":0,"row":12,"pct":60},{"col":1,"row":12,"pct":60},{"col":2,"row":12,"pct":60},{"col":3,"row":12,"pct":60},{"col":4,"row":12,"pct":60},{"col":5,"row":12,"pct":60},{"col":6,"row":12,"pct":60},{"col":7,"row":12,"pct":60},{"col":8,"row":12,"pct":60},{"col":9,"row":12,"pct":60},{"col":10,"row":12,"pct":60},{"col":11,"row":12,"pct":60},{"col":12,"row":12,"pct":60},{"col":13,"row":12,"pct":60},{"col":14,"row":12,"pct":60},{"col":15,"row":12,"pct":60},{"col":16,"row":12,"pct":60},{"col":17,"row":12,"pct":60},{"col":18,"row":12,"pct":60},{"col":19,"row":12,"pct":60},{"col":20,"row":12,"pct":60},{"col":21,"row":12,"pct":60},{"col":22,"row":12,"pct":60},{"col":23,"row":12,"pct":60},{"col":24,"row":12,"pct":60},{"col":25,"row":12,"pct":60},{"col":26,"row":12,"pct":60},{"col":27,"row":12,"pct":60},{"col":28,"row":12,"pct":60},{"col":29,"row":12,"pct":60},
{"col":0,"row":13,"pct":60},{"col":1,"row":13,"pct":60},{"col":2,"row":13,"pct":60},{"col":3,"row":13,"pct":60},{"col":4,"row":13,"pct":60},{"col":5,"row":13,"pct":60},{"col":6,"row":13,"pct":60},{"col":7,"row":13,"pct":60},{"col":8,"row":13,"pct":60},{"col":9,"row":13,"pct":60},{"col":10,"row":13,"pct":60},{"col":11,"row":13,"pct":60},{"col":12,"row":13,"pct":60},{"col":13,"row":13,"pct":60},{"col":14,"row":13,"pct":60},{"col":15,"row":13,"pct":60},{"col":16,"row":13,"pct":60},{"col":17,"row":13,"pct":60},{"col":18,"row":13,"pct":60},{"col":19,"row":13,"pct":60},{"col":20,"row":13,"pct":60},{"col":21,"row":13,"pct":60},{"col":22,"row":13,"pct":60},{"col":23,"row":13,"pct":60},{"col":24,"row":13,"pct":60},{"col":25,"row":13,"pct":60},{"col":26,"row":13,"pct":60},{"col":27,"row":13,"pct":60},{"col":28,"row":13,"pct":60},{"col":29,"row":13,"pct":60},
{"col":0,"row":14,"pct":60},{"col":1,"row":14,"pct":60},{"col":2,"row":14,"pct":70},{"col":3,"row":14,"pct":60},{"col":4,"row":14,"pct":60},{"col":5,"row":14,"pct":60},{"col":6,"row":14,"pct":60},{"col":7,"row":14,"pct":60},{"col":8,"row":14,"pct":60},{"col":9,"row":14,"pct":60},{"col":10,"row":14,"pct":60},{"col":11,"row":14,"pct":60},{"col":12,"row":14,"pct":60},{"col":13,"row":14,"pct":60},{"col":14,"row":14,"pct":60},{"col":15,"row":14,"pct":60},{"col":16,"row":14,"pct":60},{"col":17,"row":14,"pct":60},{"col":18,"row":14,"pct":60},{"col":19,"row":14,"pct":60},{"col":20,"row":14,"pct":60},{"col":21,"row":14,"pct":60},{"col":22,"row":14,"pct":60},{"col":23,"row":14,"pct":60},{"col":24,"row":14,"pct":60},{"col":25,"row":14,"pct":60},{"col":26,"row":14,"pct":60},{"col":27,"row":14,"pct":60},{"col":28,"row":14,"pct":60},{"col":29,"row":14,"pct":60},
{"col":0,"row":15,"pct":60},{"col":1,"row":15,"pct":60},{"col":2,"row":15,"pct":70},{"col":3,"row":15,"pct":70},{"col":4,"row":15,"pct":60},{"col":5,"row":15,"pct":70},{"col":6,"row":15,"pct":70},{"col":7,"row":15,"pct":70},{"col":8,"row":15,"pct":70},{"col":9,"row":15,"pct":70},{"col":10,"row":15,"pct":70},{"col":11,"row":15,"pct":70},{"col":12,"row":15,"pct":70},{"col":13,"row":15,"pct":60},{"col":14,"row":15,"pct":60},{"col":15,"row":15,"pct":60},{"col":16,"row":15,"pct":60},{"col":17,"row":15,"pct":60},{"col":18,"row":15,"pct":60},{"col":19,"row":15,"pct":70},{"col":20,"row":15,"pct":70},{"col":21,"row":15,"pct":70},{"col":22,"row":15,"pct":60},{"col":23,"row":15,"pct":60},{"col":24,"row":15,"pct":60},{"col":25,"row":15,"pct":60},{"col":26,"row":15,"pct":60},{"col":27,"row":15,"pct":60},{"col":28,"row":15,"pct":60},{"col":29,"row":15,"pct":60},
{"col":0,"row":16,"pct":70},{"col":1,"row":16,"pct":70},{"col":2,"row":16,"pct":70},{"col":3,"row":16,"pct":70},{"col":4,"row":16,"pct":70},{"col":5,"row":16,"pct":70},{"col":6,"row":16,"pct":70},{"col":7,"row":16,"pct":70},{"col":8,"row":16,"pct":70},{"col":9,"row":16,"pct":70},{"col":10,"row":16,"pct":70},{"col":11,"row":16,"pct":70},{"col":12,"row":16,"pct":70},{"col":13,"row":16,"pct":70},{"col":14,"row":16,"pct":70},{"col":15,"row":16,"pct":70},{"col":16,"row":16,"pct":70},{"col":17,"row":16,"pct":70},{"col":18,"row":16,"pct":70},{"col":19,"row":16,"pct":70},{"col":20,"row":16,"pct":70},{"col":21,"row":16,"pct":70},{"col":22,"row":16,"pct":70},{"col":23,"row":16,"pct":70},{"col":24,"row":16,"pct":70},{"col":25,"row":16,"pct":70},{"col":26,"row":16,"pct":70},{"col":27,"row":16,"pct":70},{"col":28,"row":16,"pct":60},{"col":29,"row":16,"pct":60},
{"col":0,"row":17,"pct":70},{"col":1,"row":17,"pct":70},{"col":2,"row":17,"pct":70},{"col":3,"row":17,"pct":70},{"col":4,"row":17,"pct":70},{"col":5,"row":17,"pct":70},{"col":6,"row":17,"pct":70},{"col":7,"row":17,"pct":70},{"col":8,"row":17,"pct":70},{"col":9,"row":17,"pct":70},{"col":10,"row":17,"pct":70},{"col":11,"row":17,"pct":70},{"col":12,"row":17,"pct":70},{"col":13,"row":17,"pct":70},{"col":14,"row":17,"pct":70},{"col":15,"row":17,"pct":70},{"col":16,"row":17,"pct":70},{"col":17,"row":17,"pct":70},{"col":18,"row":17,"pct":70},{"col":19,"row":17,"pct":70},{"col":20,"row":17,"pct":70},{"col":21,"row":17,"pct":70},{"col":22,"row":17,"pct":70},{"col":23,"row":17,"pct":70},{"col":24,"row":17,"pct":70},{"col":25,"row":17,"pct":70},{"col":26,"row":17,"pct":70},{"col":27,"row":17,"pct":70},{"col":28,"row":17,"pct":70},{"col":29,"row":17,"pct":70},
{"col":0,"row":18,"pct":70},{"col":1,"row":18,"pct":70},{"col":2,"row":18,"pct":70},{"col":3,"row":18,"pct":70},{"col":4,"row":18,"pct":70},{"col":5,"row":18,"pct":70},{"col":6,"row":18,"pct":70},{"col":7,"row":18,"pct":70},{"col":8,"row":18,"pct":70},{"col":9,"row":18,"pct":70},{"col":10,"row":18,"pct":70},{"col":11,"row":18,"pct":70},{"col":12,"row":18,"pct":70},{"col":13,"row":18,"pct":70},{"col":14,"row":18,"pct":70},{"col":15,"row":18,"pct":70},{"col":16,"row":18,"pct":70},{"col":17,"row":18,"pct":70},{"col":18,"row":18,"pct":70},{"col":19,"row":18,"pct":70},{"col":20,"row":18,"pct":70},{"col":21,"row":18,"pct":70},{"col":22,"row":18,"pct":70},{"col":23,"row":18,"pct":70},{"col":24,"row":18,"pct":70},{"col":25,"row":18,"pct":70},{"col":26,"row":18,"pct":70},{"col":27,"row":18,"pct":70},{"col":28,"row":18,"pct":70},{"col":29,"row":18,"pct":70},
{"col":0,"row":19,"pct":70},{"col":1,"row":19,"pct":70},{"col":2,"row":19,"pct":70},{"col":3,"row":19,"pct":70},{"col":4,"row":19,"pct":70},{"col":5,"row":19,"pct":70},{"col":6,"row":19,"pct":70},{"col":7,"row":19,"pct":70},{"col":8,"row":19,"pct":70},{"col":9,"row":19,"pct":70},{"col":10,"row":19,"pct":70},{"col":11,"row":19,"pct":70},{"col":12,"row":19,"pct":70},{"col":13,"row":19,"pct":70},{"col":14,"row":19,"pct":70},{"col":15,"row":19,"pct":70},{"col":16,"row":19,"pct":70},{"col":17,"row":19,"pct":70},{"col":18,"row":19,"pct":70},{"col":19,"row":19,"pct":70},{"col":20,"row":19,"pct":70},{"col":21,"row":19,"pct":70},{"col":22,"row":19,"pct":70},{"col":23,"row":19,"pct":70},{"col":24,"row":19,"pct":70},{"col":25,"row":19,"pct":70},{"col":26,"row":19,"pct":70},{"col":27,"row":19,"pct":70},{"col":28,"row":19,"pct":70},{"col":29,"row":19,"pct":70},
{"col":0,"row":20,"pct":70},{"col":1,"row":20,"pct":70},{"col":2,"row":20,"pct":70},{"col":3,"row":20,"pct":70},{"col":4,"row":20,"pct":70},{"col":5,"row":20,"pct":70},{"col":6,"row":20,"pct":70},{"col":7,"row":20,"pct":70},{"col":8,"row":20,"pct":70},{"col":9,"row":20,"pct":70},{"col":10,"row":20,"pct":70},{"col":11,"row":20,"pct":70},{"col":12,"row":20,"pct":70},{"col":13,"row":20,"pct":70},{"col":14,"row":20,"pct":70},{"col":15,"row":20,"pct":70},{"col":16,"row":20,"pct":70},{"col":17,"row":20,"pct":70},{"col":18,"row":20,"pct":70},{"col":19,"row":20,"pct":70},{"col":20,"row":20,"pct":70},{"col":21,"row":20,"pct":70},{"col":22,"row":20,"pct":70},{"col":23,"row":20,"pct":70},{"col":24,"row":20,"pct":70},{"col":25,"row":20,"pct":70},{"col":26,"row":20,"pct":70},{"col":27,"row":20,"pct":70},{"col":28,"row":20,"pct":70},{"col":29,"row":20,"pct":70},
{"col":0,"row":21,"pct":70},{"col":1,"row":21,"pct":70},{"col":2,"row":21,"pct":70},{"col":3,"row":21,"pct":70},{"col":4,"row":21,"pct":70},{"col":5,"row":21,"pct":70},{"col":6,"row":21,"pct":70},{"col":7,"row":21,"pct":70},{"col":8,"row":21,"pct":70},{"col":9,"row":21,"pct":70},{"col":10,"row":21,"pct":70},{"col":11,"row":21,"pct":70},{"col":12,"row":21,"pct":70},{"col":13,"row":21,"pct":70},{"col":14,"row":21,"pct":70},{"col":15,"row":21,"pct":70},{"col":16,"row":21,"pct":70},{"col":17,"row":21,"pct":70},{"col":18,"row":21,"pct":70},{"col":19,"row":21,"pct":70},{"col":20,"row":21,"pct":70},{"col":21,"row":21,"pct":70},{"col":22,"row":21,"pct":70},{"col":23,"row":21,"pct":70},{"col":24,"row":21,"pct":70},{"col":25,"row":21,"pct":70},{"col":26,"row":21,"pct":70},{"col":27,"row":21,"pct":70},{"col":28,"row":21,"pct":70},{"col":29,"row":21,"pct":70},
{"col":0,"row":22,"pct":70},{"col":1,"row":22,"pct":70},{"col":2,"row":22,"pct":70},{"col":3,"row":22,"pct":70},{"col":4,"row":22,"pct":70},{"col":5,"row":22,"pct":70},{"col":6,"row":22,"pct":70},{"col":7,"row":22,"pct":70},{"col":8,"row":22,"pct":70},{"col":9,"row":22,"pct":70},{"col":10,"row":22,"pct":70},{"col":11,"row":22,"pct":70},{"col":12,"row":22,"pct":70},{"col":13,"row":22,"pct":70},{"col":14,"row":22,"pct":70},{"col":15,"row":22,"pct":70},{"col":16,"row":22,"pct":70},{"col":17,"row":22,"pct":70},{"col":18,"row":22,"pct":70},{"col":19,"row":22,"pct":70},{"col":20,"row":22,"pct":70},{"col":21,"row":22,"pct":70},{"col":22,"row":22,"pct":70},{"col":23,"row":22,"pct":70},{"col":24,"row":22,"pct":70},{"col":25,"row":22,"pct":70},{"col":26,"row":22,"pct":70},{"col":27,"row":22,"pct":70},{"col":28,"row":22,"pct":70},{"col":29,"row":22,"pct":70},
{"col":0,"row":23,"pct":85},{"col":1,"row":23,"pct":85},{"col":2,"row":23,"pct":85},{"col":3,"row":23,"pct":85},{"col":4,"row":23,"pct":85},{"col":5,"row":23,"pct":85},{"col":6,"row":23,"pct":85},{"col":7,"row":23,"pct":85},{"col":8,"row":23,"pct":85},{"col":9,"row":23,"pct":70},{"col":10,"row":23,"pct":70},{"col":11,"row":23,"pct":70},{"col":12,"row":23,"pct":70},{"col":13,"row":23,"pct":85},{"col":14,"row":23,"pct":85},{"col":15,"row":23,"pct":85},{"col":16,"row":23,"pct":85},{"col":17,"row":23,"pct":85},{"col":18,"row":23,"pct":85},{"col":19,"row":23,"pct":70},{"col":20,"row":23,"pct":70},{"col":21,"row":23,"pct":70},{"col":22,"row":23,"pct":70},{"col":23,"row":23,"pct":85},{"col":24,"row":23,"pct":85},{"col":25,"row":23,"pct":85},{"col":26,"row":23,"pct":85},{"col":27,"row":23,"pct":85},{"col":28,"row":23,"pct":85},{"col":29,"row":23,"pct":85},
{"col":0,"row":24,"pct":85},{"col":1,"row":24,"pct":85},{"col":2,"row":24,"pct":85},{"col":3,"row":24,"pct":85},{"col":4,"row":24,"pct":85},{"col":5,"row":24,"pct":85},{"col":6,"row":24,"pct":85},{"col":7,"row":24,"pct":85},{"col":8,"row":24,"pct":85},{"col":9,"row":24,"pct":85},{"col":10,"row":24,"pct":85},{"col":11,"row":24,"pct":85},{"col":12,"row":24,"pct":85},{"col":13,"row":24,"pct":85},{"col":14,"row":24,"pct":85},{"col":15,"row":24,"pct":85},{"col":16,"row":24,"pct":85},{"col":17,"row":24,"pct":85},{"col":18,"row":24,"pct":85},{"col":19,"row":24,"pct":85},{"col":20,"row":24,"pct":85},{"col":21,"row":24,"pct":85},{"col":22,"row":24,"pct":85},{"col":23,"row":24,"pct":85},{"col":24,"row":24,"pct":85},{"col":25,"row":24,"pct":85},{"col":26,"row":24,"pct":85},{"col":27,"row":24,"pct":85},{"col":28,"row":24,"pct":85},{"col":29,"row":24,"pct":85},
{"col":0,"row":25,"pct":85},{"col":1,"row":25,"pct":85},{"col":2,"row":25,"pct":85},{"col":3,"row":25,"pct":85},{"col":4,"row":25,"pct":85},{"col":5,"row":25,"pct":85},{"col":6,"row":25,"pct":85},{"col":7,"row":25,"pct":85},{"col":8,"row":25,"pct":85},{"col":9,"row":25,"pct":85},{"col":10,"row":25,"pct":85},{"col":11,"row":25,"pct":85},{"col":12,"row":25,"pct":85},{"col":13,"row":25,"pct":85},{"col":14,"row":25,"pct":85},{"col":15,"row":25,"pct":85},{"col":16,"row":25,"pct":85},{"col":17,"row":25,"pct":85},{"col":18,"row":25,"pct":85},{"col":19,"row":25,"pct":85},{"col":20,"row":25,"pct":85},{"col":21,"row":25,"pct":85},{"col":22,"row":25,"pct":85},{"col":23,"row":25,"pct":85},{"col":24,"row":25,"pct":85},{"col":25,"row":25,"pct":85},{"col":26,"row":25,"pct":85},{"col":27,"row":25,"pct":85},{"col":28,"row":25,"pct":85},{"col":29,"row":25,"pct":85},
{"col":0,"row":26,"pct":85},{"col":1,"row":26,"pct":85},{"col":2,"row":26,"pct":85},{"col":3,"row":26,"pct":85},{"col":4,"row":26,"pct":85},{"col":5,"row":26,"pct":85},{"col":6,"row":26,"pct":85},{"col":7,"row":26,"pct":85},{"col":8,"row":26,"pct":85},{"col":9,"row":26,"pct":85},{"col":10,"row":26,"pct":85},{"col":11,"row":26,"pct":85},{"col":12,"row":26,"pct":85},{"col":13,"row":26,"pct":85},{"col":14,"row":26,"pct":85},{"col":15,"row":26,"pct":85},{"col":16,"row":26,"pct":85},{"col":17,"row":26,"pct":85},{"col":18,"row":26,"pct":85},{"col":19,"row":26,"pct":85},{"col":20,"row":26,"pct":85},{"col":21,"row":26,"pct":85},{"col":22,"row":26,"pct":85},{"col":23,"row":26,"pct":85},{"col":24,"row":26,"pct":85},{"col":25,"row":26,"pct":85},{"col":26,"row":26,"pct":85},{"col":27,"row":26,"pct":85},{"col":28,"row":26,"pct":85},{"col":29,"row":26,"pct":85},
{"col":0,"row":27,"pct":85},{"col":1,"row":27,"pct":85},{"col":2,"row":27,"pct":85},{"col":3,"row":27,"pct":85},{"col":4,"row":27,"pct":85},{"col":5,"row":27,"pct":85},{"col":6,"row":27,"pct":85},{"col":7,"row":27,"pct":85},{"col":8,"row":27,"pct":85},{"col":9,"row":27,"pct":85},{"col":10,"row":27,"pct":85},{"col":11,"row":27,"pct":85},{"col":12,"row":27,"pct":85},{"col":13,"row":27,"pct":85},{"col":14,"row":27,"pct":85},{"col":15,"row":27,"pct":85},{"col":16,"row":27,"pct":85},{"col":17,"row":27,"pct":85},{"col":18,"row":27,"pct":85},{"col":19,"row":27,"pct":85},{"col":20,"row":27,"pct":85},{"col":21,"row":27,"pct":85},{"col":22,"row":27,"pct":85},{"col":23,"row":27,"pct":85},{"col":24,"row":27,"pct":85},{"col":25,"row":27,"pct":85},{"col":26,"row":27,"pct":85},{"col":27,"row":27,"pct":85},{"col":28,"row":27,"pct":85},{"col":29,"row":27,"pct":85},
{"col":0,"row":28,"pct":85},{"col":1,"row":28,"pct":85},{"col":2,"row":28,"pct":85},{"col":3,"row":28,"pct":85},{"col":4,"row":28,"pct":85},{"col":5,"row":28,"pct":85},{"col":6,"row":28,"pct":85},{"col":7,"row":28,"pct":85},{"col":8,"row":28,"pct":85},{"col":9,"row":28,"pct":85},{"col":10,"row":28,"pct":85},{"col":11,"row":28,"pct":85},{"col":12,"row":28,"pct":85},{"col":13,"row":28,"pct":85},{"col":14,"row":28,"pct":85},{"col":15,"row":28,"pct":85},{"col":16,"row":28,"pct":85},{"col":17,"row":28,"pct":85},{"col":18,"row":28,"pct":85},{"col":19,"row":28,"pct":85},{"col":20,"row":28,"pct":85},{"col":21,"row":28,"pct":85},{"col":22,"row":28,"pct":85},{"col":23,"row":28,"pct":85},{"col":24,"row":28,"pct":85},{"col":25,"row":28,"pct":85},{"col":26,"row":28,"pct":85},{"col":27,"row":28,"pct":85},{"col":28,"row":28,"pct":85},{"col":29,"row":28,"pct":85},
{"col":0,"row":29,"pct":85},{"col":1,"row":29,"pct":85},{"col":2,"row":29,"pct":85},{"col":3,"row":29,"pct":85},{"col":4,"row":29,"pct":85},{"col":5,"row":29,"pct":85},{"col":6,"row":29,"pct":85},{"col":7,"row":29,"pct":85},{"col":8,"row":29,"pct":85},{"col":9,"row":29,"pct":85},{"col":10,"row":29,"pct":85},{"col":11,"row":29,"pct":85},{"col":12,"row":29,"pct":85},{"col":13,"row":29,"pct":85},{"col":14,"row":29,"pct":85},{"col":15,"row":29,"pct":85},{"col":16,"row":29,"pct":85},{"col":17,"row":29,"pct":85},{"col":18,"row":29,"pct":85},{"col":19,"row":29,"pct":85},{"col":20,"row":29,"pct":85},{"col":21,"row":29,"pct":85},{"col":22,"row":29,"pct":85},{"col":23,"row":29,"pct":85},{"col":24,"row":29,"pct":85},{"col":25,"row":29,"pct":85},{"col":26,"row":29,"pct":85},{"col":27,"row":29,"pct":85},{"col":28,"row":29,"pct":85},{"col":29,"row":29,"pct":85}
]
},
"hconcat":[
{"width":610,"height":708,
"layer":[
{"data":{"values":[{"a":-5.03,"b":72.43,"c":-4.54,"d":30.11}]},"mark":{"type":"rect","color":{"gradient":"linear","x1":0,"y1":0,"x2":0,"y2":1,"stops":[{"offset":0,"color":"#84C1E9"},{"offset":1,"color":"#BFE2F6"}]}},"encoding":{"x":{"field":"a","type":"quantitative","axis":null,"scale":{"domain":[-6.32,72.56],"nice":false,"zero":false}},"x2":{"field":"b"},"y":{"field":"c","type":"quantitative","axis":null,"scale":{"domain":[33.54,-5.083],"nice":false,"zero":false}},"y2":{"field":"d"}}},
{"data":{"name":"left"},"mark":{"type":"rect","width":7.733,"height":18.33,"stroke":"#8f8f8f","strokeWidth":1.5},"encoding":{"x":{"field":"col","type":"quantitative"},"y":{"field":"row","type":"quantitative"},"color":{"field":"pct","type":"ordinal","scale":{"domain":[100,85,70,60,50,40,30,20,10],"range":["#FFFFFF","#FFFF99","#FFFF66","#FFFF00","#FFC000","#FF8000","#FF0000","#C00000","#800000"]},"legend":{"title":null,"orient":"none","legendX":511,"legendY":173,"padding":0,"symbolType":"M-1,-1.475H1V1.475H-1Z","symbolSize":784,"symbolStrokeWidth":0,"symbolOpacity":1,"clipHeight":41,"rowPadding":0.3,"labelOffset":8,"labelFont":"Open Sans","labelFontSize":16,"labelColor":"#2a2a40","labelExpr":"datum.value==100?'>85%':'≤'+datum.value+'%'"}}}},
{"data":{"values":[{"a":-1.574,"b":31.18,"c":-0.937,"d":5.975},{"a":-1.367,"b":31.4,"c":22.375,"d":29.5}]},"mark":{"type":"rect","fillOpacity":0,"stroke":"black","strokeWidth":2},"encoding":{"x":{"field":"a","type":"quantitative"},"x2":{"field":"b"},"y":{"field":"c","type":"quantitative"},"y2":{"field":"d"}}},
{"data":{"values":[{"a":-5.25,"c":-4.65,"d":33.54},{"a":72.43,"c":-4.65,"d":33.54}]},"mark":{"type":"rule","color":"black","strokeWidth":2},"encoding":{"x":{"field":"a","type":"quantitative"},"y":{"field":"c","type":"quantitative"},"y2":{"field":"d"}}},
{"data":{"values":[{"a":-5.25,"b":72.56,"c":-4.6}]},"mark":{"type":"rule","color":"black","strokeWidth":2},"encoding":{"x":{"field":"a","type":"quantitative"},"x2":{"field":"b"},"y":{"field":"c","type":"quantitative"}}},
{"data":{"values":[{"a":6.61,"c":-3.57,"t":"Norway - Bergen"},{"a":-4.25,"c":-1.66,"t":"Occupation schedule :"},{"a":21.61,"c":-1.66,"t":"8AM-6PM"},{"a":61.57,"c":3.57,"t":"Autonomy"}]},"mark":{"type":"text","align":"left","baseline":"middle","font":"Open Sans","fontSize":15.7,"color":"#2a2a40"},"encoding":{"x":{"field":"a","type":"quantitative"},"y":{"field":"c","type":"quantitative"},"text":{"field":"t"}}},
{"data":{"values":[{"a":36.35,"c":0.42,"t":"offices towards"},{"a":36.35,"c":1.95,"t":"north"},{"a":36.22,"c":25.03,"t":"offices towards"},{"a":36.22,"c":26.56,"t":"south"}]},"mark":{"type":"text","align":"left","baseline":"middle","font":"Liberation Sans","fontSize":19.6,"color":"#111111"},"encoding":{"x":{"field":"a","type":"quantitative"},"y":{"field":"c","type":"quantitative"},"text":{"field":"t"}}}
]},
{"width":607,"height":708,
"layer":[
{"data":{"values":[{"a":-5.87,"b":71.95,"c":-4.88,"d":30.09}]},"mark":{"type":"rect","color":{"gradient":"linear","x1":0,"y1":0,"x2":0,"y2":1,"stops":[{"offset":0,"color":"#84C1E9"},{"offset":1,"color":"#BFE2F6"}]}},"encoding":{"x":{"field":"a","type":"quantitative","axis":null,"scale":{"domain":[-7.575,71.95],"nice":false,"zero":false}},"x2":{"field":"b"},"y":{"field":"c","type":"quantitative","axis":null,"scale":{"domain":[33.68,-5.434],"nice":false,"zero":false}},"y2":{"field":"d"}}},
{"data":{"name":"right"},"mark":{"type":"rect","width":7.633,"height":18.1,"stroke":"#8f8f8f","strokeWidth":1.5},"encoding":{"x":{"field":"col","type":"quantitative"},"y":{"field":"row","type":"quantitative"},"color":{"field":"pct","type":"ordinal","scale":{"domain":[100,85,70,60,50,40,30,20,10],"range":["#FFFFFF","#FFFF99","#FFFF66","#FFFF00","#FFC000","#FF8000","#FF0000","#C00000","#800000"]},"legend":{"title":null,"orient":"none","legendX":514,"legendY":178,"padding":0,"symbolType":"M-1,-1.511H1V1.511H-1Z","symbolSize":729,"symbolStrokeWidth":0,"symbolOpacity":1,"clipHeight":40,"rowPadding":0.8,"labelOffset":9,"labelFont":"Open Sans","labelFontSize":16,"labelColor":"#2a2a40","labelExpr":"datum.value==100?'>85%':'≤'+datum.value+'%'"}}}},
{"data":{"values":[{"a":-2.597,"b":30.29,"c":7.33,"d":11.79},{"a":-3.907,"b":28.98,"c":17.22,"d":21.64}]},"mark":{"type":"rect","fillOpacity":0,"stroke":"black","strokeWidth":2},"encoding":{"x":{"field":"a","type":"quantitative"},"x2":{"field":"b"},"y":{"field":"c","type":"quantitative"},"y2":{"field":"d"}}},
{"data":{"values":[{"a":-7.575,"b":71.95,"c":-4.94}]},"mark":{"type":"rule","color":"black","strokeWidth":2},"encoding":{"x":{"field":"a","type":"quantitative"},"x2":{"field":"b"},"y":{"field":"c","type":"quantitative"}}},
{"data":{"values":[{"a":6.57,"c":-3.56,"t":"Norway - Bergen"},{"a":-4.17,"c":-1.63,"t":"Occupation schedule :"},{"a":21.64,"c":-1.63,"t":"8AM-6PM"},{"a":61.47,"c":3.57,"t":"Autonomy"}]},"mark":{"type":"text","align":"left","baseline":"middle","font":"Open Sans","fontSize":15.7,"color":"#2a2a40"},"encoding":{"x":{"field":"a","type":"quantitative"},"y":{"field":"c","type":"quantitative"},"text":{"field":"t"}}},
{"data":{"values":[{"a":35.79,"c":8.8,"t":"corridor"},{"a":33.96,"c":18.65,"t":"corridor"}]},"mark":{"type":"text","align":"left","baseline":"middle","font":"Liberation Sans","fontSize":19.6,"color":"#111111"},"encoding":{"x":{"field":"a","type":"quantitative"},"y":{"field":"c","type":"quantitative"},"text":{"field":"t"}}}
],"resolve":{"scale":{"color":"independent"}}}
],
"resolve":{"scale":{"color":"independent","x":"independent","y":"independent"},"legend":{"color":"independent"}}}
